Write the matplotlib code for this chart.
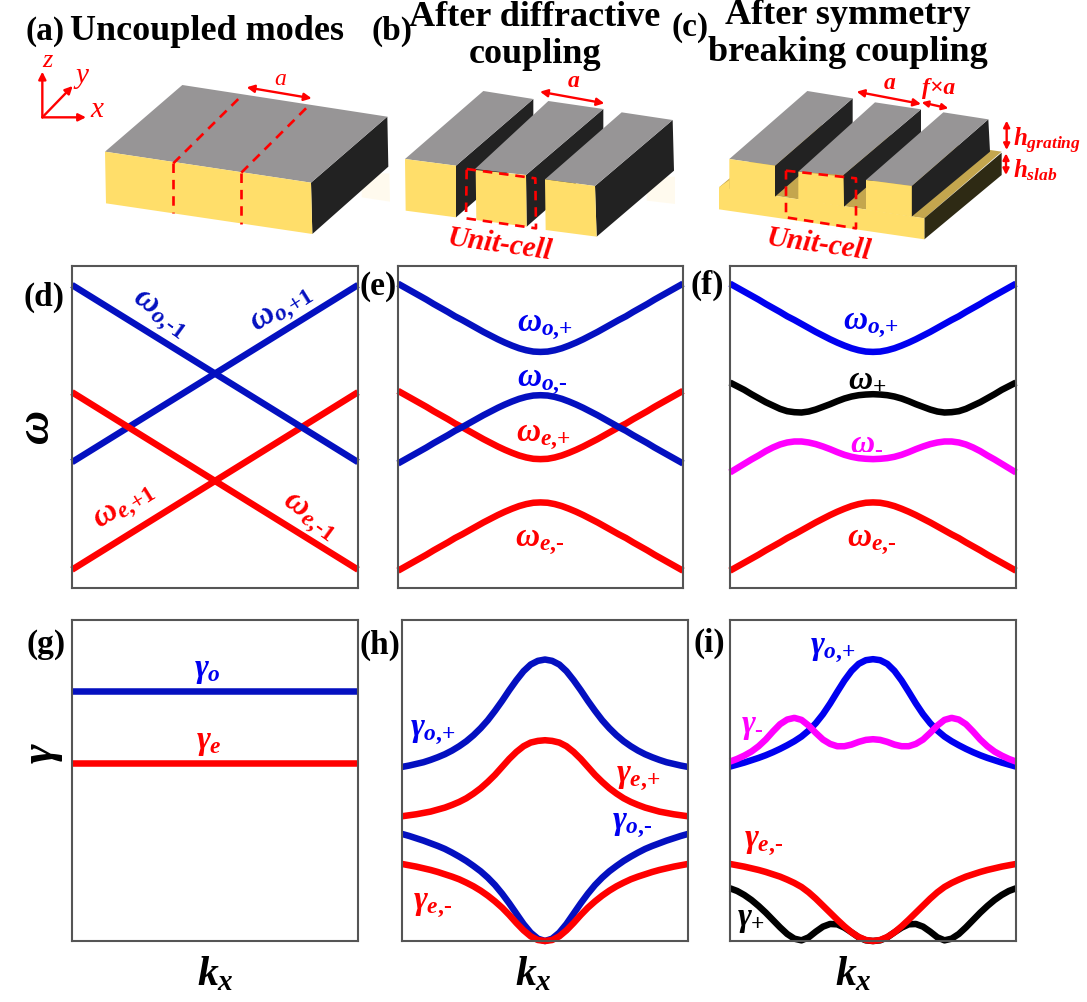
import matplotlib
matplotlib.use("Agg")
import matplotlib.pyplot as plt
from matplotlib.patches import Polygon

plt.rcParams['font.family'] = ['Liberation Serif', 'DejaVu Serif']
plt.rcParams['mathtext.fontset'] = 'custom'
plt.rcParams['mathtext.rm'] = 'Liberation Serif:bold'
plt.rcParams['mathtext.it'] = 'Liberation Serif:italic:bold'
plt.rcParams['mathtext.bf'] = 'Liberation Serif:bold'

W, H = 1087, 1002

# ---------- data (arbitrary units) ----------
k_ends = [-1, 1]
k_half = [-1, -.95, -.9, -.85, -.8, -.75, -.7, -.65, -.6, -.55, -.5, -.45, -.4,
          -.35, -.3, -.25, -.2, -.15, -.1, -.05, 0]

# row 2: frequency, each half runs from k=-1 to k=0
d_o_minus = [910, 378]
d_o_plus = [378, 910]
d_e_minus = [588, 55]
d_e_plus = [55, 588]
w_o_plus = [914, 902, 890, 878, 866, 853, 841, 829, 816, 805, 793, 781, 769, 758,
            747, 737, 728, 720, 714, 710, 709]
w_o_minus = [374, 386, 398, 410, 422, 435, 447, 459, 472, 483, 495, 507, 519, 530,
             541, 551, 560, 568, 574, 578, 579]
w_e_plus = [592, 580, 568, 556, 544, 531, 519, 507, 494, 483, 471, 459, 447, 436,
            425, 415, 406, 398, 392, 388, 387]
w_e_minus = [52, 64, 76, 88, 100, 113, 125, 137, 150, 161, 173, 185, 197, 208, 219,
             229, 238, 246, 252, 256, 257]
w_plus = [617, 606, 595, 582, 570, 558, 548, 538, 531, 528, 527, 530, 536, 544, 552,
          561, 569, 575, 579, 581, 582]
w_minus = [347, 360, 373, 386, 398, 411, 422, 431, 437, 440, 440, 437, 432, 425, 417,
           408, 400, 394, 390, 388, 387]

# row 3: damping
g_o = [749, 749]
g_e = [535, 535]
h_o_plus = [522, 526, 531, 536, 543, 551, 560, 571, 584, 599, 617, 638, 662, 690, 720,
            752, 782, 809, 829, 840, 844]
h_e_plus = [374, 377, 380, 384, 388, 394, 400, 408, 417, 428, 442, 458, 477, 498, 522,
            546, 567, 584, 595, 600, 602]
h_o_minus = [321, 315, 308, 301, 293, 285, 276, 265, 253, 240, 225, 209, 190, 168, 142,
             113, 82, 51, 25, 7, 0]
h_e_minus = [231, 227, 223, 218, 213, 207, 200, 193, 185, 175, 164, 151, 136, 119, 100,
             78, 54, 32, 14, 3, 0]
i_o_plus = [523, 529, 535, 542, 549, 557, 566, 576, 587, 599, 613, 631, 653, 680, 712,
            747, 781, 810, 831, 842, 845]
i_minus = [538, 546, 556, 568, 584, 604, 628, 650, 664, 669, 663, 646, 624, 604, 591,
           584, 584, 589, 597, 603, 605]
i_plus = [158, 150, 138, 123, 105, 85, 63, 41, 21, 7, 2, 11, 28, 43, 51, 50, 40, 26,
          11, 2, 0]
i_e_minus = [231, 227, 223, 218, 213, 207, 200, 193, 184, 174, 162, 146, 127, 106, 85,
             64, 44, 26, 12, 3, 0]

panel_letters = ['(a)', '(b)', '(c)', '(d)', '(e)', '(f)', '(g)', '(h)', '(i)']
titles = ['Uncoupled modes', 'After diffractive\ncoupling', 'After symmetry\nbreaking coupling']

DBLUE, BLUE, RED, MAG, BLK = '#0410C0', '#0000F0', '#FF0000', '#FF00FF', '#000000'
GOLD, GRAY, DARK = '#FFDE6A', '#979596', '#222222'


def mirror(half):
    return list(half[:-1]) + list(half[::-1])


def mk(k):
    return list(k[:-1]) + [-v for v in k[::-1]]


fig = plt.figure(figsize=(W / 100, H / 100), dpi=100, facecolor='white')


def panel(l, r, t, b, ymax):
    ax = fig.add_axes([l / W, 1 - b / H, (r - l) / W, (b - t) / H])
    ax.set_xlim(-1, 1)
    ax.set_ylim(0, ymax)
    ax.set_xticks([])
    ax.set_yticks([])
    for s in ax.spines.values():
        s.set_color('#555555')
        s.set_linewidth(1.5)
    return ax


def curve(ax, k, y, c, half=True):
    if half:
        k, y = mk(k), mirror(y)
    ax.plot(k, y, color=c, lw=4.7, clip_on=False, solid_capstyle='butt',
            solid_joinstyle='round')


R2T, R2B = 266, 588
R3T, R3B = 619.5, 941
axd = panel(72, 358, R2T, R2B, 967)
axe = panel(398, 683, R2T, R2B, 967)
axf = panel(730, 1016, R2T, R2B, 967)
axg = panel(72, 358, R3T, R3B, 964)
axh = panel(402, 688, R3T, R3B, 964)
axi = panel(730, 1016, R3T, R3B, 964)

curve(axd, k_ends, d_o_plus, DBLUE, False)
curve(axd, k_ends, d_e_minus, RED, False)
curve(axd, k_ends, d_e_plus, RED, False)
curve(axd, k_ends, d_o_minus, DBLUE, False)

curve(axe, k_half, w_e_minus, RED)
curve(axe, k_half, w_e_plus, RED)
curve(axe, k_half, w_o_plus, DBLUE)
curve(axe, k_half, w_o_minus, DBLUE)

curve(axf, k_half, w_e_minus, RED)
curve(axf, k_half, w_minus, MAG)
curve(axf, k_half, w_plus, BLK)
curve(axf, k_half, w_o_plus, BLUE)

curve(axg, k_ends, g_o, DBLUE, False)
curve(axg, k_ends, g_e, RED, False)

curve(axh, k_half, h_o_plus, DBLUE)
curve(axh, k_half, h_e_plus, RED)
curve(axh, k_half, h_o_minus, DBLUE)
curve(axh, k_half, h_e_minus, RED)

curve(axi, k_half, i_o_plus, BLUE)
curve(axi, k_half, i_minus, MAG)
curve(axi, k_half, i_plus, BLK)
curve(axi, k_half, i_e_minus, RED)

# ---------- overlay in pixel space for schematics and annotation ----------
ov = fig.add_axes([0, 0, 1, 1], zorder=10)
ov.set_xlim(0, W)
ov.set_ylim(H, 0)
ov.axis('off')
ov.patch.set_alpha(0)


def Z(ox, pts):
    return [(ox + x / 3, y / 3) for x, y in pts]


def poly(ox, pts, c, alpha=1):
    ov.add_patch(Polygon(Z(ox, pts), closed=True, fc=c, ec='none', alpha=alpha))


def dash(ox, pts, closed=False):
    p = Z(ox, pts)
    if closed:
        p = p + [p[0]]
    ov.plot([a for a, _ in p], [b for _, b in p], color=RED, lw=1.9,
            ls=(0, (3.6, 2.6)), solid_capstyle='butt')


def arrow(ox, p, q, style='<|-|>', ms=11):
    (a, b) = Z(ox, [p, q])
    ov.annotate('', xy=b, xytext=a,
                arrowprops=dict(arrowstyle=style, color=RED, lw=1.7, shrinkA=0,
                                shrinkB=0, mutation_scale=ms))


def T(x, y, s, c='black', size=20, rot=0, **kw):
    ov.text(x, y, s, color=c, fontsize=size, rotation=rot, ha='center', va='center',
            rotation_mode='anchor', **kw)


def bar(ox, top, front, side):
    poly(ox, side, DARK)
    poly(ox, top, GRAY)
    poly(ox, front, GOLD)


# (a) slab
poly(0, [(1085, 520), (1168, 520), (1170, 605), (1085, 592)], '#FFF3CF', .35)
bar(0, [(315, 455), (547, 255), (1162, 350), (933, 548)],
    [(315, 455), (933, 548), (937, 702), (318, 610)],
    [(933, 548), (1162, 350), (1165, 500), (937, 702)])
dash(0, [(520, 490), (722, 290)])
dash(0, [(724, 518), (925, 318)])
dash(0, [(520, 490), (520, 640)])
dash(0, [(724, 518), (724, 672)])
arrow(0, (740, 262), (935, 295))
T(280, 79, 'a', RED, 17, style='italic')
arrow(0, (127, 352), (127, 215), '-|>')
arrow(0, (127, 352), (218, 258), '-|>')
arrow(0, (127, 352), (258, 352), '-|>')
T(47, 61, 'z', RED, 19, style='italic')
T(82, 76, 'y', RED, 21, style='italic')
T(97, 110, 'x', RED, 21, style='italic')

# (b) isolated bars
B = 360
poly(B, [(860, 530), (945, 530), (945, 612), (860, 602)], '#FFF3CF', .35)
bar(B, [(135, 477), (370, 273), (520, 297), (288, 497)],
    [(135, 477), (288, 497), (288, 652), (137, 632)],
    [(288, 497), (520, 297), (520, 450), (288, 652)])
bar(B, [(345, 507), (565, 303), (730, 327), (498, 525)],
    [(347, 510), (498, 525), (500, 680), (349, 660)],
    [(498, 525), (730, 327), (730, 478), (500, 680)])
bar(B, [(555, 538), (785, 337), (938, 360), (705, 558)],
    [(555, 538), (705, 558), (710, 710), (557, 690)],
    [(705, 558), (938, 360), (942, 512), (710, 710)])
dash(B, [(320, 507), (526, 535), (528, 685), (318, 655)], closed=True)
arrow(B, (540, 275), (733, 310))
T(B + 640 / 3, 81, 'a', RED, 17, style='italic', weight='bold')
T(B + 418 / 3, 245, 'Unit-cell', RED, 21, -8, weight='bold', style='italic')

# (c) bars on a slab
C = 690
poly(C, [(87, 562), (320, 365), (935, 455), (703, 655)], '#C4A64E')
poly(C, [(87, 562), (118, 540), (118, 575)], GOLD)
poly(C, [(703, 655), (935, 458), (935, 525), (703, 718)], '#2E2A14')
poly(C, [(87, 562), (703, 655), (703, 718), (87, 628)], GOLD)
bar(C, [(118, 477), (352, 273), (488, 295), (255, 497)],
    [(118, 477), (255, 497), (255, 590), (118, 570)],
    [(255, 497), (488, 295), (488, 388), (255, 590)])
bar(C, [(325, 515), (555, 307), (693, 328), (460, 525)],
    [(325, 515), (460, 530), (462, 620), (325, 600)],
    [(460, 525), (693, 328), (693, 420), (462, 620)])
bar(C, [(528, 540), (760, 337), (895, 358), (665, 558)],
    [(528, 540), (665, 558), (665, 650), (528, 630)],
    [(665, 558), (895, 358), (900, 455), (665, 650)])
dash(C, [(288, 512), (498, 535), (498, 685), (288, 652)], closed=True)
arrow(C, (500, 275), (693, 312))
arrow(C, (695, 307), (775, 325), ms=9)
arrow(C, (950, 362), (950, 450), ms=9)
arrow(C, (948, 460), (948, 525), ms=9)
T(C + 600 / 3, 83, 'a', RED, 17, style='italic', weight='bold')
T(C + 746 / 3, 88, 'f×a', RED, 17, style='italic', weight='bold')
T(C + 1072 / 3, 141, r'$h_{grating}$', RED, 18)
T(C + 1035 / 3, 170, r'$h_{slab}$', RED, 18)
T(C + 385 / 3, 245, 'Unit-cell', RED, 21, -8, weight='bold', style='italic')

# titles
TS = 26
T(207, 31, titles[0], size=TS, weight='bold')
T(535, 36, titles[1], size=TS, weight='bold', linespacing=1.15)
T(848, 34, titles[2], size=TS, weight='bold', linespacing=1.15)

# panel letters
letter_xy = [(45, 31), (392, 31), (690, 27), (44, 297), (378, 287), (707, 285),
             (46, 645), (380, 645), (709, 643)]
for s, (x, y) in zip(panel_letters, letter_xy):
    T(x, y, s, size=24, weight='bold')

# axis names
T(38, 428, r'$\omega$', size=34, rot=90)
T(44, 753, r'$\gamma$', size=34, rot=90)
for x in (215, 533, 853):
    T(x, 975, r'$k_x$', size=30)

# curve names
LS = 24
for x, y, s, c, r in [
    (159, 315, r'$\omega_{o{,}\text{-}1}$', DBLUE, -36),
    (283, 310, r'$\omega_{o{,}\text{+}1}$', DBLUE, 32),
    (125, 508, r'$\omega_{e{,}\text{+}1}$', RED, 32),
    (308, 517, r'$\omega_{e{,}\text{-}1}$', RED, -36),
    (545, 327, r'$\omega_{o{,}\text{+}}$', BLUE, 0),
    (542, 382, r'$\omega_{o{,}\text{-}}$', BLUE, 0),
    (543, 437, r'$\omega_{e{,}\text{+}}$', RED, 0),
    (540, 542, r'$\omega_{e{,}\text{-}}$', RED, 0),
    (871, 325, r'$\omega_{o{,}\text{+}}$', BLUE, 0),
    (867, 379, r'$\omega_{\text{+}}$', BLK, 0),
    (867, 441, r'$\omega_{\text{-}}$', MAG, 0),
    (872, 542, r'$\omega_{e{,}\text{-}}$', RED, 0),
    (207, 671, r'$\gamma_{o}$', BLUE, 0),
    (209, 743, r'$\gamma_{e}$', RED, 0),
    (433, 732, r'$\gamma_{o{,}\text{+}}$', BLUE, 0),
    (638, 778, r'$\gamma_{e{,}\text{+}}$', RED, 0),
    (632, 825, r'$\gamma_{o{,}\text{-}}$', BLUE, 0),
    (433, 905, r'$\gamma_{e{,}\text{-}}$', RED, 0),
    (833, 650, r'$\gamma_{o{,}\text{+}}$', BLUE, 0),
    (752, 727, r'$\gamma_{\text{-}}$', MAG, 0),
    (764, 843, r'$\gamma_{e{,}\text{-}}$', RED, 0),
    (751, 920, r'$\gamma_{\text{+}}$', BLK, 0),
]:
    T(x, y, s, c, LS, r)

fig.savefig('out.png', dpi=100)
